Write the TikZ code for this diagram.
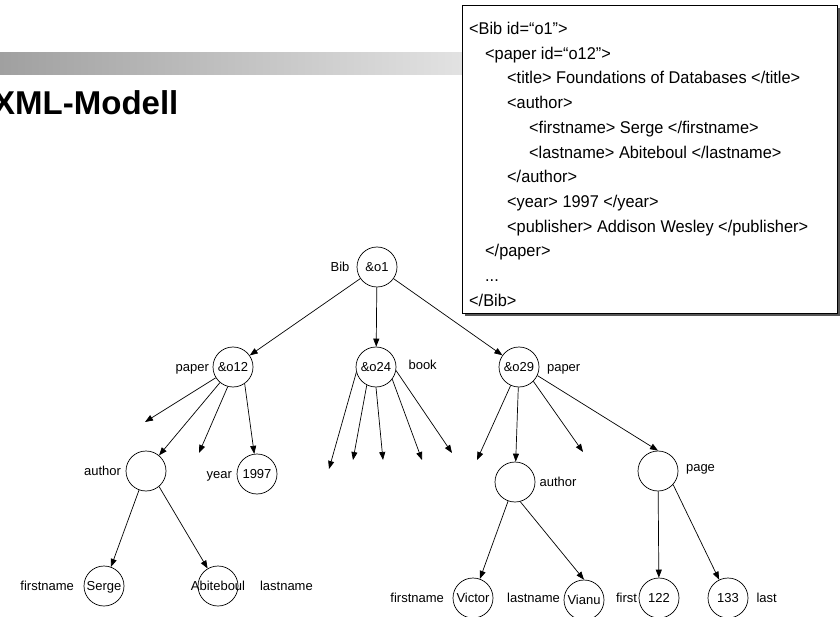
\documentclass[tikz,border=0pt]{standalone}
\usepackage{fontspec}
\setmainfont{Liberation Sans}
\newfontfamily\xmlfont[FakeStretch=0.96]{Liberation Sans}
\usepackage{xcolor}
\usepackage{tikz}
\usetikzlibrary{arrows.meta,positioning,shadows}
\definecolor{BarDark}{HTML}{A0A0A0}
\definecolor{BarLight}{HTML}{E2E2E2}
\definecolor{ShadowGray}{HTML}{555555}
\newcommand{\treefont}{\fontsize{13}{15}\selectfont}
\newcommand{\overwide}[1]{\makebox[0pt]{#1}}

\begin{document}
\begin{tikzpicture}[x=1pt, y=-1pt,
        obj/.style={draw, circle, line width=0.7pt, minimum size=40pt, inner sep=0pt,
                    text height=11pt, text depth=1.7pt, font=\treefont},
        tag/.style={inner sep=0pt, text height=11pt, text depth=1.7pt, font=\treefont},
        edge/.style={-{Triangle[length=8pt,width=6pt]}, line width=0.7pt}]
    \useasboundingbox (0,0) rectangle (840,617);

    % header
    \shade[left color=BarDark, right color=BarLight] (0,53) rectangle (462,75);
    \node[anchor=base west, inner sep=0pt, font=\fontsize{33}{36}\selectfont\bfseries] (title) at (-7,115) {XML-Modell};

    % xml source
    \node[draw, line width=0.8pt, fill=white, anchor=north west, inner sep=0pt,
          minimum width=375pt, minimum height=308pt,
          drop shadow={shadow xshift=3pt, shadow yshift=-3pt, fill=ShadowGray, opacity=1}] (xmlframe) at (462,5) {};
    \node[anchor=north west, inner sep=0pt, align=left,
          font=\xmlfont\fontsize{17}{24.7}\selectfont] (xmltext) at (469,22) {%
        <Bib id=“o1”>\\
        \hspace*{16pt}<paper id=“o12”>\\
        \hspace*{38pt}<title> Foundations of Databases </title>\\
        \hspace*{38pt}<author>\\
        \hspace*{60pt}<firstname> Serge </firstname>\\
        \hspace*{60pt}<lastname> Abiteboul </lastname>\\
        \hspace*{38pt}</author>\\
        \hspace*{38pt}<year> 1997 </year>\\
        \hspace*{38pt}<publisher> Addison Wesley </publisher>\\
        \hspace*{16pt}</paper>\\
        \hspace*{16pt}...\\
        </Bib>};

    % objects
    \node[obj] (o1) at (377,267) {\&o1};
    \node[obj] (o12) at (233,367) {\&o12};
    \node[obj] (o24) at (376,367) {\&o24};
    \node[obj] (o29) at (519,367) {\&o29};
    \node[obj] (a1) at (146,471) {};
    \node[obj] (year) at (257,474) {1997};
    \node[obj] (serge) at (104,586) {Serge};
    \node[obj] (abit) at (218,586) {\overwide{Abiteboul}};
    \node[obj] (a2) at (515,482) {};
    \node[obj] (page) at (658,471) {};
    \node[obj] (victor) at (473,598) {Victor};
    \node[obj] (vianu) at (584,600) {Vianu};
    \node[obj] (n122) at (659,598) {122};
    \node[obj] (n133) at (728,598) {133};

    % labels
    \node[tag, left=7pt of o1] (l1) {Bib};
    \node[tag, left=3.5pt of o12] (l12) {paper};
    \node[tag, right=12pt of o24, yshift=2pt] (l24) {book};
    \node[tag, right=7.5pt of o29] (l29) {paper};
    \node[tag, left=4.5pt of a1] (la1) {author};
    \node[tag, left=4.5pt of year] (lyear) {year};
    \node[tag, left=9.5pt of serge] (lserge) {firstname};
    \node[tag, right=21.5pt of abit] (labit) {lastname};
    \node[tag, right=4pt of a2] (la2) {author};
    \node[tag, right=7.5pt of page, yshift=4pt] (lpage) {page};
    \node[tag, left=8.5pt of victor] (lvictor) {firstname};
    \node[tag, left=3.5pt of vianu, yshift=2pt] (lvianu) {lastname};
    \node[tag, left=1.5pt of n122] (l122) {first};
    \node[tag, right=8pt of n133] (l133) {last};

    % open ends
    \coordinate (p1) at (145,422);
    \coordinate (p2) at (199,453);
    \coordinate (b1) at (329,469);
    \coordinate (b2) at (353,460);
    \coordinate (b3) at (383,460);
    \coordinate (b4) at (422,460);
    \coordinate (b5) at (452,453);
    \coordinate (q1) at (477,460);
    \coordinate (q2) at (583,452);

    % edges
    \draw[edge] (o1) -- (o12);
    \draw[edge] (o1) -- (o24);
    \draw[edge] (o1) -- (o29);
    \draw[edge] (o12) -- (p1);
    \draw[edge] (o12) -- (a1);
    \draw[edge] (o12.255) -- (p2);
    \draw[edge] (o12.305) -- (year);
    \draw[edge] (a1) -- (serge);
    \draw[edge] (a1.310) -- (abit);
    \draw[edge] (o24.195) -- (b1);
    \draw[edge] (o24.243) -- (b2);
    \draw[edge] (o24.270) -- (b3);
    \draw[edge] (o24.323) -- (b4);
    \draw[edge] (o24.350) -- (b5);
    \draw[edge] (o29) -- (q1);
    \draw[edge] (o29) -- (a2);
    \draw[edge] (o29.315) -- (q2);
    \draw[edge] (o29.335) -- (page.north);
    \draw[edge] (a2) -- (victor);
    \draw[edge] (a2.285) -- (vianu.north);
    \draw[edge] (page) -- (n122);
    \draw[edge] (page.318) -- (n133);
\end{tikzpicture}
\end{document}
